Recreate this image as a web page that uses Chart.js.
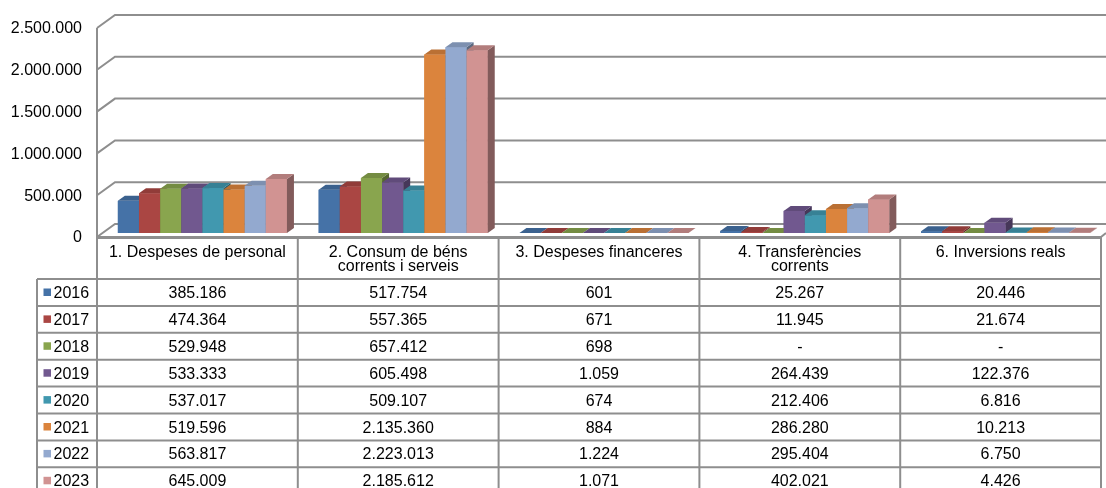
<!DOCTYPE html>
<html><head><meta charset="utf-8">
<script src="https://cdn.jsdelivr.net/npm/chart.js@4.4.1/dist/chart.umd.min.js"></script>
<style>html,body{margin:0;padding:0;background:#fff;}canvas{display:block;}</style>
</head><body>
<canvas id="c" width="1106" height="488"></canvas>
<script>
// ---- data ----
const categories = [
  ["1. Despeses de personal"],
  ["2. Consum de béns", "corrents i serveis"],
  ["3. Despeses financeres"],
  ["4. Transferències", "corrents"],
  ["6. Inversions reals"]
];
const years = ["2016", "2017", "2018", "2019", "2020", "2021", "2022", "2023"];
const colors = ["#4572A7", "#AA4643", "#89A54E", "#71588F", "#4198AF", "#DB843D", "#93A9CF", "#D19392"];
const v2016 = [385186, 517754, 601, 25267, 20446];
const v2017 = [474364, 557365, 671, 11945, 21674];
const v2018 = [529948, 657412, 698, 0, 0];
const v2019 = [533333, 605498, 1059, 264439, 122376];
const v2020 = [537017, 509107, 674, 212406, 6816];
const v2021 = [519596, 2135360, 884, 286280, 10213];
const v2022 = [563817, 2223013, 1224, 295404, 6750];
const v2023 = [645009, 2185612, 1071, 402021, 4426];
const seriesValues = [v2016, v2017, v2018, v2019, v2020, v2021, v2022, v2023];
const yTicks = [0, 500000, 1000000, 1500000, 2000000, 2500000];

// ---- helpers ----
const FONT = '"Liberation Sans", Arial, Helvetica, sans-serif';
const GRID = '#8e8e8e';
const BAR_D = {dx: 7, dy: -5};       // depth of bars
const WALL_D = {dx: 18, dy: -13};    // front plane -> back wall
const SHIFT = {dx: 5, dy: -4};       // front plane -> bar front plane

function fmt(v) {
  if (v === 0) return "-";
  return String(v).replace(/\B(?=(\d{3})+(?!\d))/g, ".");
}
function shade(hex, f) {
  const n = parseInt(hex.slice(1), 16);
  const r = (n >> 16) & 255, g = (n >> 8) & 255, b = n & 255;
  return `rgb(${Math.round(r * f)},${Math.round(g * f)},${Math.round(b * f)})`;
}

const wallsPlugin = {
  id: 'walls',
  beforeDatasetsDraw(chart) {
    const ctx = chart.ctx, ys = chart.scales.y, xs = chart.scales.x;
    const W = xs.getPixelForValue(1) - xs.getPixelForValue(0);
    const fx = chart.chartArea.left - SHIFT.dx;
    const tableRight = fx + W * categories.length;
    ctx.save();
    ctx.strokeStyle = GRID; ctx.lineWidth = 2;
    yTicks.forEach(v => {
      const fy = ys.getPixelForValue(v) - SHIFT.dy;
      ctx.beginPath();
      ctx.moveTo(fx, fy);
      ctx.lineTo(fx + WALL_D.dx, fy + WALL_D.dy);
      ctx.lineTo(chart.width, fy + WALL_D.dy);
      ctx.stroke();
    });
    const y0 = ys.getPixelForValue(0) - SHIFT.dy;
    const yTop = ys.getPixelForValue(yTicks[yTicks.length - 1]) - SHIFT.dy;
    ctx.beginPath(); ctx.moveTo(fx, yTop); ctx.lineTo(fx, y0); ctx.stroke();
    ctx.beginPath();
    ctx.moveTo(fx, y0); ctx.lineTo(tableRight, y0); ctx.lineTo(chart.width, y0 - 4);
    ctx.stroke();
    ctx.restore();
  }
};

// Redraw every bar (front, side, top) left to right so the depth faces overlap correctly
const barsPlugin = {
  id: 'bars3d',
  afterDatasetsDraw(chart) {
    const ctx = chart.ctx;
    ctx.save();
    categories.forEach((_, c) => {
      years.forEach((_, i) => {
        const el = chart.getDatasetMeta(i).data[c];
        const color = colors[i];
        const p = el.getProps(['x', 'y', 'base', 'width'], true);
        const l = p.x - p.width / 2, r = p.x + p.width / 2, t = p.y, b = p.base;
        ctx.fillStyle = color;
        ctx.fillRect(l, t, r - l, b - t);
        ctx.fillStyle = shade(color, 0.62);
        ctx.beginPath();
        ctx.moveTo(r, t); ctx.lineTo(r + BAR_D.dx, t + BAR_D.dy);
        ctx.lineTo(r + BAR_D.dx, b + BAR_D.dy); ctx.lineTo(r, b); ctx.closePath(); ctx.fill();
        ctx.fillStyle = shade(color, 0.85);
        ctx.beginPath();
        ctx.moveTo(l, t); ctx.lineTo(l + BAR_D.dx, t + BAR_D.dy);
        ctx.lineTo(r + BAR_D.dx, t + BAR_D.dy); ctx.lineTo(r, t); ctx.closePath(); ctx.fill();
      });
    });
    ctx.restore();
  }
};

const tablePlugin = {
  id: 'datatable',
  afterDraw(chart) {
    const ctx = chart.ctx, ys = chart.scales.y, xs = chart.scales.x;
    const W = xs.getPixelForValue(1) - xs.getPixelForValue(0);
    const fx = chart.chartArea.left - SHIFT.dx;
    const top = ys.getPixelForValue(0) - SHIFT.dy + 1;
    const headerH = 41, rowH = 26.9;
    const legL = 37;
    const right = fx + W * categories.length;
    const rowsTop = top + headerH;
    ctx.save();
    ctx.strokeStyle = GRID; ctx.lineWidth = 2;
    ctx.beginPath(); ctx.moveTo(fx, top); ctx.lineTo(right, top); ctx.stroke();
    for (let i = 0; i <= years.length; i++) {
      const y = rowsTop + i * rowH;
      ctx.beginPath(); ctx.moveTo(legL, y); ctx.lineTo(right, y); ctx.stroke();
    }
    for (let c = 0; c <= categories.length; c++) {
      const x = fx + c * W;
      ctx.beginPath(); ctx.moveTo(x, top - 1); ctx.lineTo(x, chart.height); ctx.stroke();
    }
    ctx.beginPath(); ctx.moveTo(legL, rowsTop); ctx.lineTo(legL, chart.height); ctx.stroke();

    ctx.fillStyle = '#000';
    ctx.font = '16px ' + FONT;
    ctx.textBaseline = 'alphabetic';
    ctx.textAlign = 'center';
    categories.forEach((lines, c) => {
      const cx = fx + c * W + W / 2;
      lines.forEach((s, k) => ctx.fillText(s, cx, top + 18.5 + k * 14.5));
    });
    years.forEach((yr, i) => {
      const ry = rowsTop + i * rowH;
      ctx.fillStyle = colors[i];
      ctx.fillRect(43.5, ry + 9.5, 7.5, 7.5);
      ctx.fillStyle = '#000';
      ctx.textAlign = 'left';
      ctx.fillText(yr, 53.5, ry + 19);
      ctx.textAlign = 'center';
      seriesValues[i].forEach((v, c) => {
        ctx.fillText(fmt(v), fx + c * W + W / 2, ry + 19);
      });
    });
    ctx.restore();
  }
};

new Chart(document.getElementById('c'), {
  type: 'bar',
  data: {
    labels: categories,
    datasets: years.map((yr, i) => ({
      label: yr,
      data: seriesValues[i],
      backgroundColor: colors[i],
      borderWidth: 0,
      barPercentage: 1.0,
      categoryPercentage: 0.842
    }))
  },
  options: {
    responsive: false,
    animation: false,
    layout: {padding: {top: 24, bottom: 255, left: 0, right: 0}},
    plugins: {legend: {display: false}, tooltip: {enabled: false}},
    scales: {
      x: {display: false},
      y: {
        min: 0, max: 2500000,
        afterBuildTicks: s => { s.ticks = yTicks.map(v => ({value: v})); },
        afterFit: s => { s.width = 102; s.paddingTop = 0; s.paddingBottom = 0; },
        grid: {display: false, drawTicks: false},
        border: {display: false},
        ticks: {
          padding: 20, labelOffset: 5, color: '#000',
          font: {family: FONT, size: 16},
          callback: v => (v === 0 ? "0" : fmt(v))
        }
      }
    }
  },
  plugins: [wallsPlugin, barsPlugin, tablePlugin]
});
</script>
</body></html>
